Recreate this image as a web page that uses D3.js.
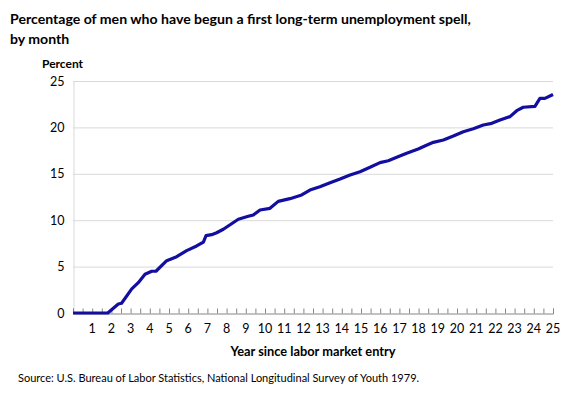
<!DOCTYPE html>
<html>
<head>
<meta charset="utf-8">
<title>Long-term unemployment spell</title>
<script src="https://d3js.org/d3.v7.min.js"></script>
<style>
  body { margin: 0; background: #fff; }
  text { font-family: Lato, "Open Sans", sans-serif; fill: #000; }
</style>
</head>
<body>
<div id="chart"></div>
<script>
// years since labor market entry
const years = [0, 1.81, 2.36, 2.53, 3.06, 3.40, 3.75, 4.10, 4.32, 4.88, 5.40, 5.92, 6.44, 6.79, 6.93, 7.22,
  7.48, 7.83, 8.26, 8.61, 9.13, 9.39, 9.74, 10.26, 10.69, 11.30, 11.91, 12.34, 12.86, 13.39, 13.91,
  14.43, 14.95, 15.47, 15.99, 16.42, 16.86, 17.38, 17.98, 18.38, 18.77, 19.29, 19.81, 20.33, 20.85,
  21.37, 21.81, 22.24, 22.76, 23.11, 23.45, 24.06, 24.32, 24.58, 25];
// percent who have begun a first long-term unemployment spell
const percent = [0, 0, 0.97, 1.05, 2.6, 3.27, 4.17, 4.5, 4.5, 5.64, 6.07, 6.72, 7.22, 7.65, 8.33, 8.44,
  8.65, 9.02, 9.62, 10.1, 10.42, 10.56, 11.1, 11.28, 12.03, 12.32, 12.72, 13.25, 13.61, 14.04, 14.44,
  14.87, 15.23, 15.70, 16.2, 16.41, 16.78, 17.21, 17.67, 18.05, 18.39, 18.64, 19.07, 19.54, 19.86,
  20.26, 20.44, 20.8, 21.16, 21.8, 22.17, 22.27, 23.13, 23.13, 23.55];
const yTicks = [0, 5, 10, 15, 20, 25];
const xLabels = d3.range(1, 26);

const W = 580, H = 396;
const svg = d3.select("#chart").append("svg").attr("width", W).attr("height", H);

const x = d3.scaleLinear().domain([0, 25]).range([73, 553]);
const y = d3.scaleLinear().domain([0, 25]).range([313, 81]);

// title
svg.append("text").attr("x", 10).attr("y", 24)
  .style("font-size", "14.1px").style("font-weight", "bold")
  .text("Percentage of men who have begun a first long-term unemployment spell,");
svg.append("text").attr("x", 10).attr("y", 44)
  .style("font-size", "14.1px").style("font-weight", "bold")
  .text("by month");

svg.append("text").attr("x", 42).attr("y", 68)
  .style("font-size", "12px").style("font-weight", "bold")
  .text("Percent");

// gridlines
svg.append("g").selectAll("line").data(yTicks.filter(d => d > 0)).join("line")
  .attr("x1", x(0)).attr("x2", x(25))
  .attr("y1", d => y(d) + 0.5).attr("y2", d => y(d) + 0.5)
  .attr("stroke", "#d9d9d9").attr("stroke-width", 1);

// y axis
const yAxis = svg.append("g").attr("transform", `translate(${x(0) + 0.5},0)`)
  .call(d3.axisLeft(y).tickValues(yTicks).tickSize(0).tickPadding(9));
yAxis.select(".domain").attr("stroke", "#d9d9d9");
yAxis.selectAll("text").style("font-size", "12.5px").style("font-family", "Lato, sans-serif");

// x axis: ticks every half year, pointing up, labels on whole years
const xAxis = svg.append("g").attr("transform", `translate(0,${y(0) + 0.5})`)
  .call(d3.axisBottom(x).tickValues(d3.range(0, 25.5, 0.5)).tickSize(-5).tickFormat(""));
xAxis.select(".domain").attr("stroke", "#868686");
xAxis.selectAll(".tick line").attr("stroke", "#868686");

svg.append("g").selectAll("text").data(xLabels).join("text")
  .attr("x", d => x(d)).attr("y", 333)
  .attr("text-anchor", "middle")
  .style("font-size", "12.5px")
  .text(d => d);

svg.append("text").attr("x", 313).attr("y", 356).attr("text-anchor", "middle")
  .style("font-size", "12.8px").style("font-weight", "bold")
  .text("Year since labor market entry");

// line
const line = d3.line().x((d, i) => x(years[i])).y(d => y(d));
svg.append("path").datum(percent)
  .attr("d", line)
  .attr("fill", "none")
  .attr("stroke", "#120ea0")
  .attr("stroke-width", 3.2)
  .attr("stroke-linejoin", "round");

svg.append("text").attr("x", 18).attr("y", 382)
  .style("font-size", "11px")
  .text("Source: U.S. Bureau of Labor Statistics, National Longitudinal Survey of Youth 1979.");
</script>
</body>
</html>
